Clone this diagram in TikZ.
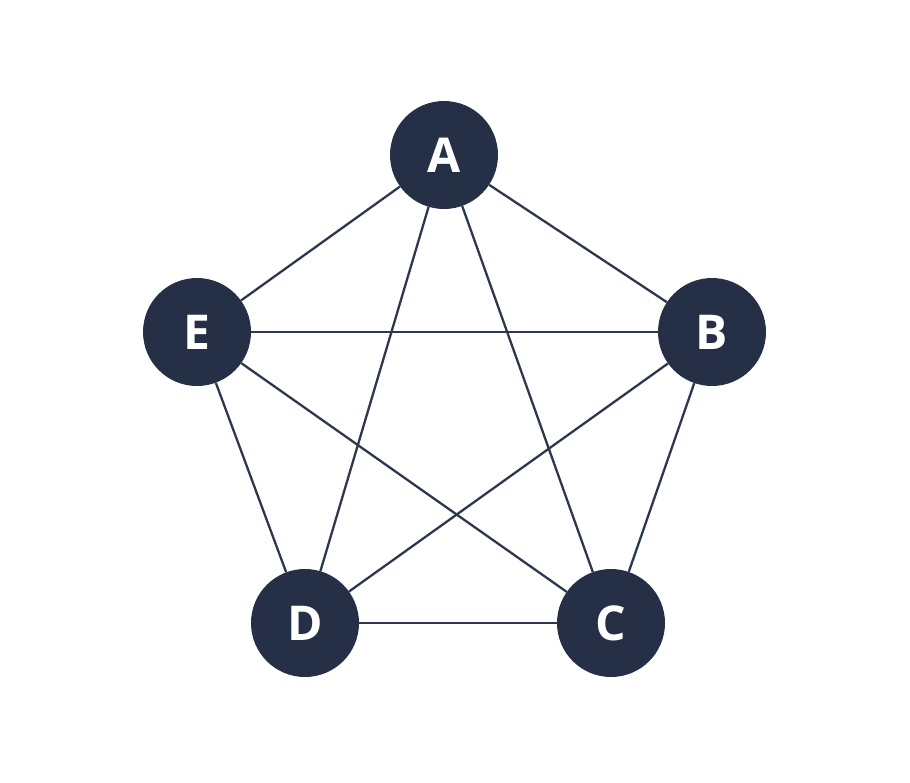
\documentclass[tikz,border=0pt]{standalone}
\usepackage{fontspec}
\setmainfont{Open Sans}
\definecolor{navy}{HTML}{253047}
\begin{document}
\begin{tikzpicture}[x=1pt,y=-1pt,
  vert/.style={circle,fill=navy,minimum size=108pt,inner sep=0pt,text=white,font=\fontsize{48}{48}\selectfont\bfseries},
  edge/.style={draw=navy!90!gray,line width=2.3pt}]
\useasboundingbox[fill=white] (0,0) rectangle (910,782);
\node[vert] (A) at (444,155) {A};
\node[vert] (B) at (712,332) {B};
\node[vert] (C) at (611,623) {C};
\node[vert] (D) at (305,623) {D};
\node[vert] (E) at (197,332) {E};
\foreach \u/\v in {A/B,A/C,A/D,A/E,B/C,B/D,B/E,C/D,C/E,D/E}
  \draw[edge] (\u) -- (\v);
\end{tikzpicture}
\end{document}
